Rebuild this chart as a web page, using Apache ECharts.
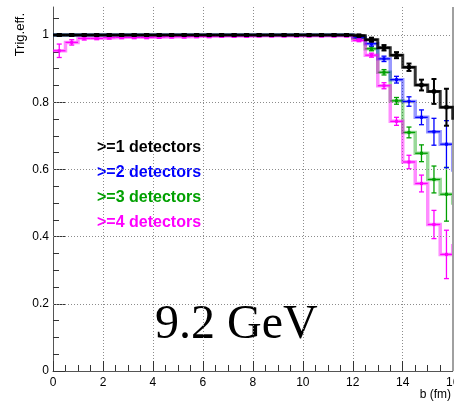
<!DOCTYPE html>
<html>
<head>
<meta charset="utf-8">
<script src="https://cdn.jsdelivr.net/npm/echarts@6/dist/echarts.min.js"></script>
<style>
  html, body { margin: 0; padding: 0; background: #fff; }
  #chart { width: 454px; height: 404px; }
</style>
</head>
<body>
<div id="chart"></div>
<script>
// Lower edges of the impact-parameter bins (fm); the last one is the bin just past 16 fm.
const bins = [0, 0.5, 1, 1.5, 2, 2.5, 3, 3.5, 4, 4.5, 5, 5.5, 6, 6.5, 7, 7.5,
              8, 8.5, 9, 9.5, 10, 10.5, 11, 11.5, 12, 12.5, 13, 13.5, 14, 14.5, 15, 15.5, 16];
const binWidth = 0.5;

// Trigger efficiency per bin for each detector multiplicity requirement
const effGe1 = [1, 1, 1, 1, 1, 1, 1, 1, 1, 1, 1, 1, 1, 1, 1, 1, 1, 1, 1, 1, 1, 1, 1, 1,
                0.998, 0.986, 0.962, 0.940, 0.904, 0.851, 0.832, 0.785, 0.752];
const errGe1 = [0.003, 0.003, 0.003, 0.003, 0.003, 0.003, 0.003, 0.003, 0.003, 0.003, 0.003, 0.003,
                0.003, 0.003, 0.003, 0.003, 0.003, 0.003, 0.003, 0.003, 0.003, 0.003, 0.003, 0.003,
                0.003, 0.006, 0.008, 0.009, 0.011, 0.016, 0.037, 0.055, 0.06];

const effGe2 = [1, 1, 1, 1, 1, 1, 1, 1, 1, 1, 1, 1, 1, 1, 1, 1, 1, 1, 1, 1, 1, 1, 1, 1,
                0.993, 0.974, 0.929, 0.867, 0.802, 0.755, 0.712, 0.675, 0.598];
const errGe2 = [0.003, 0.003, 0.003, 0.003, 0.003, 0.003, 0.003, 0.003, 0.003, 0.003, 0.003, 0.003,
                0.003, 0.003, 0.003, 0.003, 0.003, 0.003, 0.003, 0.003, 0.003, 0.003, 0.003, 0.003,
                0.004, 0.007, 0.008, 0.010, 0.014, 0.022, 0.040, 0.070, 0.08];

const effGe3 = [1, 1, 1, 1, 1, 1, 1, 1, 1, 1, 1, 1, 1, 1, 1, 1, 1, 1, 1, 1, 1, 1, 1, 1,
                0.990, 0.959, 0.889, 0.804, 0.710, 0.648, 0.570, 0.526, 0.500];
const errGe3 = [0.003, 0.003, 0.003, 0.003, 0.003, 0.003, 0.003, 0.003, 0.003, 0.003, 0.003, 0.003,
                0.003, 0.003, 0.003, 0.003, 0.003, 0.003, 0.003, 0.003, 0.003, 0.003, 0.003, 0.003,
                0.004, 0.006, 0.008, 0.010, 0.016, 0.025, 0.040, 0.080, 0.09];

const effGe4 = [0.953, 0.978, 0.990, 0.990, 0.992, 0.993, 0.993, 0.993, 0.994, 0.995, 0.995, 0.996,
                0.996, 0.997, 0.997, 0.997, 0.998, 0.998, 0.998, 0.998, 0.998, 0.998, 0.998, 0.998,
                0.984, 0.940, 0.849, 0.743, 0.622, 0.558, 0.436, 0.347, 0.373];
const errGe4 = [0.020, 0.008, 0.005, 0.004, 0.004, 0.004, 0.004, 0.004, 0.004, 0.004, 0.004, 0.004,
                0.004, 0.004, 0.004, 0.004, 0.004, 0.004, 0.004, 0.004, 0.004, 0.004, 0.004, 0.004,
                0.004, 0.006, 0.009, 0.012, 0.020, 0.025, 0.042, 0.072, 0.08];

const legendLabels = ['>=1 detectors', '>=2 detectors', '>=3 detectors', '>=4 detectors'];
const xTicks = [0, 2, 4, 6, 8, 10, 12, 14, 16];
const yTicks = [0, 0.2, 0.4, 0.6, 0.8, 1];
const energyLabel = '9.2 GeV';

const SANS = '"Liberation Sans", Arial, Helvetica, sans-serif';
const SERIF = '"Liberation Serif", "Times New Roman", serif';

// Histogram outline: horizontal across every bin, vertical at each edge
function stepPoints(values) {
  const pts = [];
  values.forEach((v, i) => {
    pts.push([bins[i], v]);
    pts.push([bins[i] + binWidth, v]);
  });
  return pts;
}

function errorRows(values, errs) {
  return values.map((v, i) => [bins[i], bins[i] + binWidth, v, errs[i]]);
}

function errorBarRenderer(color, markerSize, lineWidth) {
  return function (params, api) {
    const lo = api.value(0), hi = api.value(1), v = api.value(2), e = api.value(3);
    const mid = (lo + hi) / 2;
    const pL = api.coord([lo, v]);
    const pR = api.coord([hi, v]);
    const pC = api.coord([mid, v]);
    const pT = api.coord([mid, v + e]);
    const pB = api.coord([mid, v - e]);
    const cap = 2.5;
    const st = { stroke: color, lineWidth: lineWidth, fill: null };
    return {
      type: 'group',
      children: [
        { type: 'line', shape: { x1: pL[0], y1: pL[1], x2: pR[0], y2: pR[1] }, style: st },
        { type: 'line', shape: { x1: pT[0], y1: pT[1], x2: pB[0], y2: pB[1] }, style: st },
        { type: 'line', shape: { x1: pT[0] - cap, y1: pT[1], x2: pT[0] + cap, y2: pT[1] }, style: st },
        { type: 'line', shape: { x1: pB[0] - cap, y1: pB[1], x2: pB[0] + cap, y2: pB[1] }, style: st },
        { type: 'rect', shape: { x: pC[0] - markerSize / 2, y: pC[1] - markerSize / 2,
                                 width: markerSize, height: markerSize },
          style: { fill: color } }
      ]
    };
  };
}

// Drawn back to front: the >=1 curve sits on top of the others
const groups = [
  { name: legendLabels[2], eff: effGe3, err: errGe3, color: '#00a000', outline: { width: 3.5, opacity: 0.4 }, marker: 3, bar: 1.3, z: 2 },
  { name: legendLabels[1], eff: effGe2, err: errGe2, color: '#0000ff', outline: { width: 3.5, opacity: 0.4 }, marker: 3, bar: 1.3, z: 3 },
  { name: legendLabels[3], eff: effGe4, err: errGe4, color: '#ff00ff', outline: { width: 3.5, opacity: 0.45 }, marker: 3, bar: 1.3, z: 4 },
  { name: legendLabels[0], eff: effGe1, err: errGe1, color: '#000000', outline: { width: 3, opacity: 0.8 }, marker: 4, bar: 2, z: 5 }
];
const legendColors = ['#000000', '#0000ff', '#00a000', '#ff00ff'];

const series = [];
groups.forEach((g) => {
  series.push({
    name: g.name,
    type: 'line',
    data: stepPoints(g.eff),
    symbol: 'none',
    clip: true,
    silent: true,
    lineStyle: { color: g.color, width: g.outline.width, opacity: g.outline.opacity, join: 'miter' },
    z: g.z
  });
  series.push({
    name: g.name + ' errors',
    type: 'custom',
    data: errorRows(g.eff, g.err),
    encode: { x: [0, 1], y: 2 },
    clip: true,
    silent: true,
    renderItem: errorBarRenderer(g.color, g.marker, g.bar),
    z: g.z
  });
});

// Horizontal grid lines at the y major ticks and the right frame edge
series.push({
  type: 'line',
  data: [],
  silent: true,
  markLine: {
    silent: true,
    symbol: 'none',
    label: { show: false },
    lineStyle: { color: '#8c8c8c', type: [1, 2], width: 1 },
    data: yTicks.filter((t) => t > 0).map((t) => ({ yAxis: t })).concat([
      { xAxis: 16, lineStyle: { color: '#a0a0a0', type: 'solid', width: 2 } }
    ])
  },
  z: 1
});

const chart = echarts.init(document.getElementById('chart'), null, { renderer: 'canvas' });
chart.setOption({
  animation: false,
  backgroundColor: '#ffffff',
  grid: { left: 53, right: 1.3, top: 7, bottom: 33, containLabel: false, outerBoundsMode: 'none' },
  xAxis: {
    type: 'value',
    min: 0,
    max: 16,
    interval: 2,
    axisLine: { show: true, onZero: false, lineStyle: { color: '#555', width: 1 } },
    axisTick: { show: true, inside: true, length: 10, lineStyle: { color: '#333' } },
    minorTick: { show: true, splitNumber: 4, length: 6, lineStyle: { color: '#333' } },
    axisLabel: { color: '#000', fontFamily: SANS, fontSize: 12, margin: 6,
                 customValues: xTicks, showMaxLabel: true, hideOverlap: false },
    splitLine: { show: true, lineStyle: { color: '#8c8c8c', type: [1, 2], width: 1 } },
    minorSplitLine: { show: false }
  },
  yAxis: {
    type: 'value',
    min: 0,
    max: 1.0833,
    interval: 0.2,
    axisLine: { show: true, onZero: false, lineStyle: { color: '#555', width: 1 } },
    axisTick: { show: true, inside: true, length: 12, customValues: yTicks, lineStyle: { color: '#333' } },
    minorTick: { show: true, splitNumber: 4, length: 6, lineStyle: { color: '#333' } },
    axisLabel: {
      color: '#000', fontFamily: SANS, fontSize: 12, margin: 4,
      customValues: yTicks,
      formatter: (v) => (v > 1.0001 ? '' : String(Math.round(v * 10) / 10))
    },
    splitLine: { show: false }
  },
  graphic: [
    { type: 'text', x: 20, y: 13, rotation: Math.PI / 2,
      style: { text: 'Trig.eff.', font: '13px ' + SANS, fill: '#000',
               align: 'right', verticalAlign: 'middle' } },
    { type: 'text', x: 451, y: 395,
      style: { text: 'b (fm)', font: '12px ' + SANS, fill: '#000',
               align: 'right', verticalAlign: 'middle' } },
    { type: 'text', x: 155, y: 325,
      style: { text: energyLabel, font: '48px ' + SERIF, fill: '#000',
               align: 'left', verticalAlign: 'middle' } }
  ].concat(legendLabels.map((label, i) => ({
    type: 'text', x: 97, y: 148 + i * 25,
    style: { text: label, font: 'bold 16px ' + SANS, fill: legendColors[i],
             align: 'left', verticalAlign: 'middle' }
  }))),
  series: series
});
</script>
</body>
</html>
